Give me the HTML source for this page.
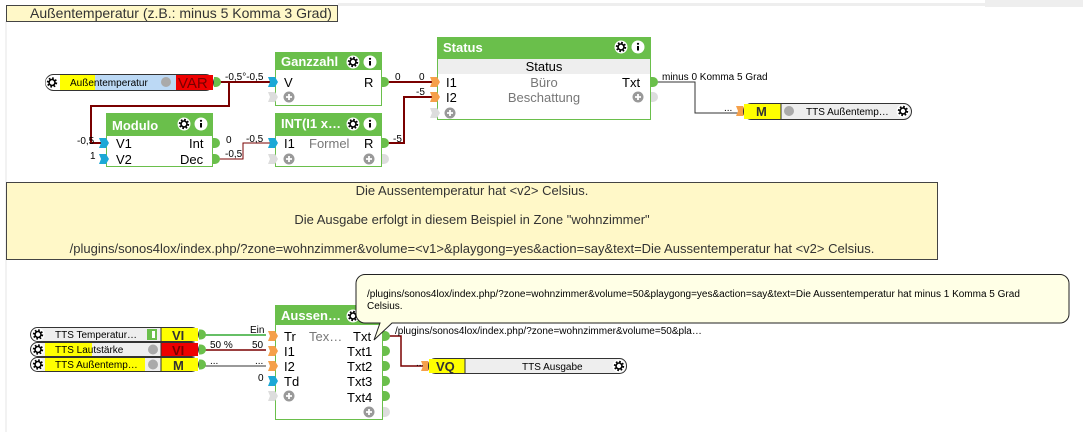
<!DOCTYPE html>
<html><head><meta charset="utf-8"><style>
html,body{margin:0;padding:0;background:#fff;}
svg{display:block;font-family:"Liberation Sans",sans-serif;}
.s{font-size:10px;fill:#000;}
.p{font-size:13px;fill:#000;}
.h{font-size:13px;font-weight:bold;fill:#fff;}
.g{fill:#777;}
</style></head><body>
<svg width="1083" height="432" viewBox="0 0 1083 432" xmlns="http://www.w3.org/2000/svg">
<defs>
<g id="gear"><circle r="6.5" fill="#fff"/><circle r="4.2" fill="none" stroke="#000" stroke-width="2" stroke-dasharray="1.6 1.7"/><circle r="3" fill="none" stroke="#000" stroke-width="1.6"/></g>
<g id="info"><circle r="6.5" fill="#fff"/><rect x="-1" y="-1" width="2" height="4.5" fill="#000"/><circle cy="-3.2" r="1.1" fill="#000"/></g>
<g id="plus"><circle r="5.5" fill="#999"/><path d="M-3,0h6M0,-3v6" stroke="#fff" stroke-width="1.8"/></g>
<g id="pin"><path d="M-7,-5h7l3,5l-3,5h-7l2,-5z"/></g>
<g id="pout"><path d="M0,-5h2a5,5 0 0 1 0,10h-2z"/></g>
</defs>
<!-- top bars -->
<rect x="338" y="3" width="745" height="3" fill="#eee"/>
<rect x="985" y="0" width="98" height="7" fill="#eee"/>
<rect x="5" y="21" width="2" height="411" fill="#f2f2f2"/>
<rect x="6.5" y="5.5" width="331" height="16" fill="#fff8c8" stroke="#444"/>
<text x="30" y="18" style="font-size:14px" fill="#333">Außentemperatur (z.B.: minus 5 Komma 3 Grad)</text>

<!-- wires top -->
<g fill="none" stroke="#7a0000" stroke-width="2">
<path d="M219,82H270"/>
<path d="M229,82V106H91V143H102"/>
<path d="M387,82H432"/>
<path d="M387,143H404V97H432"/>
<path d="M219,159H243V143H270" stroke-width="1"/>
</g>
<path d="M656,82H695V113H738" fill="none" stroke="#333" stroke-width="1"/>

<!-- VAR input -->
<rect x="45.5" y="74.5" width="168" height="16" rx="8" fill="#fff" stroke="#333"/>
<rect x="60" y="75" width="35" height="15" fill="#ff0"/>
<rect x="95" y="75" width="81" height="15" fill="#bcd9f5"/>
<rect x="176" y="75" width="37" height="15" fill="#e00"/>
<use href="#gear" x="52" y="82.5"/>
<circle cx="166" cy="82" r="5" fill="#aaa"/>
<text x="70" y="86" class="s" fill="#333">Außentemperatur</text>
<text x="178" y="88" style="font-size:15px" fill="#700">VAR</text>
<use href="#pout" x="214" y="82" fill="#6abf4b"/>
<text x="225" y="80" class="s">-0,5°-0,5</text>

<!-- Ganzzahl -->
<rect x="275.5" y="52.5" width="106" height="53" fill="#fff" stroke="#6abf4b"/>
<rect x="275" y="52" width="107" height="18" fill="#6abf4b"/>
<text x="281" y="66" class="h">Ganzzahl</text>
<use href="#gear" x="353" y="62"/><use href="#info" x="370" y="62"/>
<use href="#pin" x="275" y="82" fill="#1ba8d6"/><use href="#pin" x="275" y="97" fill="#ddd"/>
<text x="284" y="87" class="p">V</text><text x="364" y="87" class="p">R</text>
<use href="#plus" x="289" y="97"/>
<use href="#pout" x="382" y="82" fill="#6abf4b"/>
<text x="395" y="80" class="s">0</text><text x="419" y="80" class="s">0</text>

<!-- Modulo -->
<rect x="106.5" y="113.5" width="106" height="53" fill="#fff" stroke="#6abf4b"/>
<rect x="106" y="113" width="107" height="23" fill="#6abf4b"/>
<text x="112" y="130" class="h">Modulo</text>
<use href="#gear" x="184" y="124"/><use href="#info" x="201" y="124"/>
<use href="#pin" x="106" y="143" fill="#1ba8d6"/><use href="#pin" x="106" y="159" fill="#1ba8d6"/>
<text x="116" y="148" class="p">V1</text><text x="116" y="164" class="p">V2</text>
<text x="189" y="148" class="p">Int</text><text x="180" y="164" class="p">Dec</text>
<use href="#pout" x="213" y="143" fill="#6abf4b"/><use href="#pout" x="213" y="159" fill="#6abf4b"/>
<text x="77" y="144" class="s">-0,5</text><text x="90" y="159" class="s">1</text>
<text x="226" y="143" class="s">0</text><text x="225" y="157" class="s">-0,5</text>

<!-- INT -->
<rect x="275.5" y="113.5" width="106" height="53" fill="#fff" stroke="#6abf4b"/>
<rect x="275" y="113" width="107" height="23" fill="#6abf4b"/>
<text x="281" y="128" class="h">INT(I1 x…</text>
<use href="#gear" x="353" y="124"/><use href="#info" x="370" y="124"/>
<use href="#pin" x="275" y="143" fill="#1ba8d6"/><use href="#pin" x="275" y="159" fill="#ddd"/>
<text x="284" y="148" class="p">I1</text><text x="309" y="148" class="p g">Formel</text><text x="364" y="148" class="p">R</text>
<use href="#plus" x="289" y="159"/><use href="#plus" x="369" y="159"/>
<use href="#pout" x="382" y="159" fill="#ddd"/><use href="#pout" x="382" y="143" fill="#6abf4b"/>
<text x="246" y="142" class="s">-0,5</text><text x="393" y="142" class="s">-5</text><text x="416" y="95" class="s">-5</text>

<!-- Status -->
<rect x="437.5" y="37.5" width="213" height="82" fill="#fff" stroke="#6abf4b"/>
<rect x="437" y="37" width="214" height="22" fill="#6abf4b"/>
<rect x="438" y="59" width="212" height="15" fill="#eee"/>
<text x="443" y="52" class="h">Status</text>
<use href="#gear" x="621" y="47"/><use href="#info" x="638" y="47"/>
<text x="544" y="71" class="p" text-anchor="middle" fill="#333">Status</text>
<use href="#pin" x="437" y="82" fill="#f5a04a"/><use href="#pin" x="437" y="97" fill="#f5a04a"/><use href="#pin" x="437" y="113" fill="#ddd"/>
<text x="446" y="87" class="p">I1</text><text x="446" y="102" class="p">I2</text>
<text x="544" y="87" class="p g" text-anchor="middle">Büro</text><text x="544" y="102" class="p g" text-anchor="middle">Beschattung</text>
<text x="622" y="87" class="p">Txt</text>
<use href="#plus" x="638" y="97"/><use href="#plus" x="450" y="113"/>
<use href="#pout" x="651" y="82" fill="#6abf4b"/><use href="#pout" x="651" y="97" fill="#ddd"/>
<text x="662" y="80" class="s">minus 0 Komma 5 Grad</text>
<text x="724" y="111" class="s">...</text>

<!-- M out -->
<use href="#pin" x="743" y="111" fill="#f5a04a"/>
<rect x="743.5" y="103.5" width="168" height="16" rx="8" fill="#eee" stroke="#333"/>
<rect x="744" y="104" width="37" height="15" fill="#ff0"/>
<path d="M781,104V119" stroke="#333"/>
<text x="756" y="116" style="font-size:13px;font-weight:bold" fill="#333">M</text>
<circle cx="789" cy="111" r="5" fill="#aaa"/>
<text x="806" y="115" class="s" fill="#333">TTS Außentemp…</text>
<use href="#gear" x="903" y="111"/>

<!-- note -->
<rect x="6.5" y="182.5" width="931" height="77" fill="#fff8c8" stroke="#444"/>
<g style="font-size:13px" fill="#333" text-anchor="middle">
<text x="472" y="195">Die Aussentemperatur hat &lt;v2&gt; Celsius.</text>
<text x="472" y="224">Die Ausgabe erfolgt in diesem Beispiel in Zone "wohnzimmer"</text>
<text x="472" y="253">/plugins/sonos4lox/index.php/?zone=wohnzimmer&amp;volume=&lt;v1&gt;&amp;playgong=yes&amp;action=say&amp;text=Die Aussentemperatur hat &lt;v2&gt; Celsius.</text>
</g>

<!-- lower wires -->
<path d="M204,335H266" stroke="#3a3" stroke-width="1.5" fill="none"/>
<path d="M204,350H266" stroke="#7a0000" stroke-width="1.5" fill="none"/>
<path d="M204,366H266" stroke="#333" stroke-width="1" fill="none"/>
<path d="M388,336H401V366H423" stroke="#7a0000" stroke-width="1.5" fill="none"/>

<!-- inputs -->
<g>
<rect x="30.5" y="327.5" width="168" height="14" rx="7" fill="#eee" stroke="#333"/>
<rect x="30.5" y="342.5" width="168" height="14" rx="7" fill="#eee" stroke="#333"/>
<rect x="30.5" y="357.5" width="168" height="14" rx="7" fill="#eee" stroke="#333"/>
<rect x="45" y="343" width="47" height="13" fill="#ff0"/>
<rect x="45" y="358" width="100" height="13" fill="#ff0"/>
<rect x="161" y="328" width="37" height="13" fill="#ff0"/>
<rect x="161" y="343" width="37" height="13" fill="#e00"/>
<rect x="161" y="358" width="37" height="13" fill="#ff0"/>
<path d="M161,328V371" stroke="#333"/>
<use href="#gear" x="38" y="334.5"/><use href="#gear" x="38" y="349.5"/><use href="#gear" x="38" y="364.5"/>
<rect x="147" y="329" width="10" height="11" fill="#6abf4b"/><rect x="152" y="331" width="3" height="7" fill="#fff"/>
<circle cx="153" cy="349.5" r="5" fill="#aaa"/><circle cx="153" cy="364.5" r="5" fill="#aaa"/>
<text x="55" y="338" class="s" fill="#333">TTS Temperatur…</text>
<text x="55" y="353" class="s" fill="#333">TTS Lautstärke</text>
<text x="55" y="368" class="s" fill="#333">TTS Außentemp…</text>
<text x="172" y="340" style="font-size:13px;font-weight:bold" fill="#333">VI</text>
<text x="172" y="355" style="font-size:13px;font-weight:bold" fill="#700">VI</text>
<text x="173" y="370" style="font-size:13px;font-weight:bold" fill="#333">M</text>
<use href="#pout" x="199" y="334.5" fill="#6abf4b"/><use href="#pout" x="199" y="349.5" fill="#6abf4b"/><use href="#pout" x="199" y="364.5" fill="#6abf4b"/>
<text x="250" y="333" class="s">Ein</text>
<text x="210" y="348" class="s">50 %</text><text x="252" y="348" class="s">50</text>
<text x="210" y="364" class="s">...</text><text x="255" y="364" class="s">...</text>
<text x="258" y="381" class="s">0</text>
</g>

<!-- Aussen block -->
<rect x="275.5" y="305.5" width="107" height="114" fill="#fff" stroke="#6abf4b"/>
<rect x="275" y="305" width="108" height="20" fill="#6abf4b"/>
<text x="281" y="320" class="h">Aussen…</text>
<use href="#gear" x="353" y="316"/>
<use href="#pin" x="275" y="336" fill="#f5a04a"/><use href="#pin" x="275" y="351" fill="#f5a04a"/><use href="#pin" x="275" y="366" fill="#f5a04a"/><use href="#pin" x="275" y="381" fill="#1ba8d6"/><use href="#pin" x="275" y="396" fill="#ddd"/>
<text x="284" y="341" class="p">Tr</text><text x="309" y="341" class="p g">Tex…</text><text x="353" y="341" class="p">Txt</text>
<text x="284" y="356" class="p">I1</text><text x="347" y="356" class="p">Txt1</text>
<text x="284" y="371" class="p">I2</text><text x="347" y="371" class="p">Txt2</text>
<text x="284" y="386" class="p">Td</text><text x="347" y="386" class="p">Txt3</text>
<text x="347" y="402" class="p">Txt4</text>
<use href="#plus" x="289" y="396"/><use href="#plus" x="369" y="412"/>
<use href="#pout" x="383" y="336" fill="#6abf4b"/><use href="#pout" x="383" y="351" fill="#6abf4b"/><use href="#pout" x="383" y="366" fill="#6abf4b"/><use href="#pout" x="383" y="381" fill="#6abf4b"/><use href="#pout" x="383" y="396" fill="#6abf4b"/><use href="#pout" x="383" y="412" fill="#ddd"/>
<text x="395" y="334" class="s">/plugins/sonos4lox/index.php/?zone=wohnzimmer&amp;volume=50&amp;pla…</text>

<!-- tooltip -->
<path d="M365,274.5H1060a9,9 0 0 1 9,9V314a9,9 0 0 1 -9,9H392L374,340L380,323H365a9,9 0 0 1 -9,-9V283.5a9,9 0 0 1 9,-9z" fill="#ffffe6" stroke="#222"/>
<text x="367" y="297" class="s">/plugins/sonos4lox/index.php/?zone=wohnzimmer&amp;volume=50&amp;playgong=yes&amp;action=say&amp;text=Die Aussentemperatur hat minus 1 Komma 5 Grad</text>
<text x="367" y="309" class="s">Celsius.</text>

<!-- VQ -->
<text x="416" y="366" class="s">...</text>
<use href="#pin" x="428" y="366" fill="#f5a04a"/>
<rect x="428.5" y="358.5" width="198" height="15" rx="7" fill="#eee" stroke="#333"/>
<rect x="429" y="359" width="36" height="14" fill="#ff0"/>
<path d="M465,359V373" stroke="#333"/>
<text x="436" y="371" style="font-size:13px;font-weight:bold" fill="#333">VQ</text>
<text x="522" y="370" class="s" fill="#333">TTS Ausgabe</text>
<use href="#gear" x="619" y="366"/>
</svg>
</body></html>
